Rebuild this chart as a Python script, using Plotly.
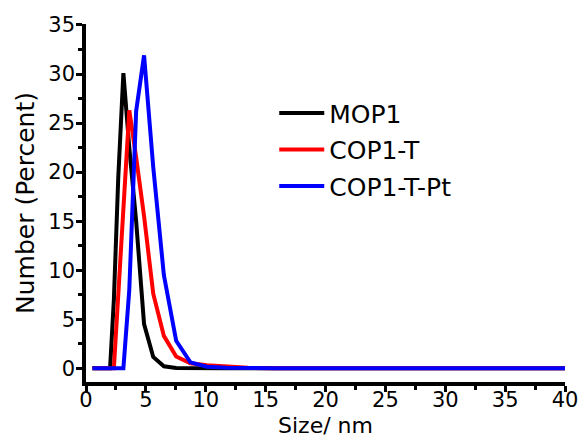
import plotly.graph_objects as go

size_nm = [0.5365, 0.6213, 0.7195, 0.8332, 0.9649, 1.117, 1.294, 1.499, 1.736,
           2.01, 2.328, 2.696, 3.122, 3.615, 4.187, 4.849, 5.615, 6.503, 7.531,
           8.721, 10.1, 11.7, 13.54, 15.69, 18.17, 21.04, 24.36, 28.21, 32.67,
           37.84, 43.82]

mop1 = [0, 0, 0, 0, 0, 0, 0, 0, 0,
        0, 7.0, 19.5, 30.1, 22.5, 15.0, 4.5, 1.15, 0.2, 0.03,
        0, 0, 0, 0, 0, 0, 0, 0, 0, 0, 0, 0]
cop1_t = [0, 0, 0, 0, 0, 0, 0, 0, 0,
          0, 0, 7.5, 16.0, 26.3, 21.5, 15.5, 7.6, 3.3, 1.2,
          0.5, 0.3, 0.15, 0.05, 0, 0, 0, 0, 0, 0, 0, 0]
cop1_t_pt = [0, 0, 0, 0, 0, 0, 0, 0, 0,
             0, 0, 0, 0, 8.0, 26.2, 31.9, 20.5, 9.5, 2.8,
             0.6, 0.15, 0.05, 0, 0, 0, 0, 0, 0, 0, 0, 0]

series = [("MOP1", mop1, "#000000"),
          ("COP1-T", cop1_t, "#ff0000"),
          ("COP1-T-Pt", cop1_t_pt, "#0000ff")]

x_ticks = [0, 5, 10, 15, 20, 25, 30, 35, 40]
y_ticks = [0, 5, 10, 15, 20, 25, 30, 35]

FONT = "DejaVu Sans"

fig = go.Figure()
for i, (name, vals, col) in enumerate(series):
    fig.add_trace(go.Scatter(x=size_nm, y=vals, mode="lines", name=name,
                             legendgroup=f"g{i}",
                             line=dict(color=col, width=4)))

axis_common = dict(showgrid=False, zeroline=False, showline=True, automargin=False,
                   linecolor="black", linewidth=3.5, ticks="outside",
                   ticklen=6, tickwidth=3, tickcolor="black",
                   tickfont=dict(family=FONT, size=21, color="black"))

fig.update_xaxes(range=[0, 40], tickvals=x_ticks, ticklabelstandoff=-10,
                 minor=dict(dtick=2.5, tick0=0, ticks="outside", ticklen=4,
                            tickwidth=3, tickcolor="black"),
                 title=dict(text="Size/ nm", font=dict(family=FONT, size=22, color="black"),
                            standoff=14),
                 **axis_common)
fig.update_yaxes(range=[-1.4, 35.1], tickvals=y_ticks, ticklabelstandoff=-3,
                 minor=dict(dtick=2.5, tick0=0, ticks="outside", ticklen=4,
                            tickwidth=3, tickcolor="black"),
                 title=dict(text="Number (Percent)", font=dict(family=FONT, size=25, color="black"),
                            standoff=8),
                 **axis_common)

fig.update_layout(
    width=582, height=438,
    margin=dict(l=86, r=17, t=24, b=56, autoexpand=False),
    plot_bgcolor="white", paper_bgcolor="white",
    showlegend=True,
    legend=dict(x=0.393, y=0.815, xanchor="left", yanchor="top",
                bgcolor="rgba(0,0,0,0)", tracegroupgap=1,
                font=dict(family=FONT, size=25, color="black"),
                itemwidth=45),
)

fig.write_html("out.html")
